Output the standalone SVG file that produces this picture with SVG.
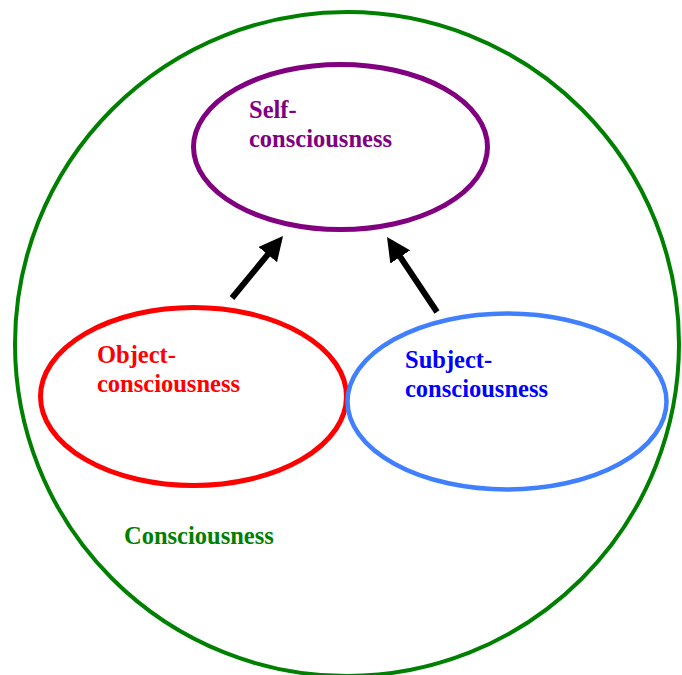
<svg xmlns="http://www.w3.org/2000/svg" width="682" height="675" viewBox="0 0 682 675">
<style>
.lbl{font-family:"Liberation Serif","Times New Roman",serif;font-weight:bold;font-size:24.5px}
.ring{fill:none}
.arr{stroke:#000;stroke-width:6;fill:none}
</style>
<defs>
<marker id="ah" markerWidth="4" markerHeight="4" refX="3" refY="2" orient="auto" markerUnits="strokeWidth">
<path d="M0,0 L4,2 L0,4 Z" fill="#000"/>
</marker>
</defs>
<rect width="682" height="675" fill="#fff"/>
<g id="consciousness">
<circle class="ring" cx="347" cy="344" r="332" stroke="#008000" stroke-width="4"/>
<text class="lbl" x="124" y="544" fill="#008000">Consciousness</text>
</g>
<g id="self">
<ellipse class="ring" cx="340.5" cy="147" rx="147" ry="82.5" stroke="#800080" stroke-width="5"/>
<text class="lbl" fill="#800080"><tspan x="249" y="118">Self-</tspan><tspan x="249" y="147">consciousness</tspan></text>
</g>
<g id="object">
<ellipse class="ring" cx="193.5" cy="396.5" rx="153" ry="89" stroke="#ff0000" stroke-width="5"/>
<text class="lbl" fill="#ff0000"><tspan x="97" y="363">Object-</tspan><tspan x="97" y="392">consciousness</tspan></text>
</g>
<g id="subject">
<ellipse class="ring" cx="507" cy="401.5" rx="159.5" ry="88" stroke="#4080ff" stroke-width="4.5"/>
<text class="lbl" fill="#0000ff"><tspan x="405" y="368">Subject-</tspan><tspan x="405" y="397">consciousness</tspan></text>
</g>
<g id="connectors">
<line class="arr" x1="232" y1="298" x2="279.2" y2="240.7" marker-end="url(#ah)"/>
<line class="arr" x1="437" y1="312" x2="390.3" y2="242" marker-end="url(#ah)"/>
</g>
</svg>
